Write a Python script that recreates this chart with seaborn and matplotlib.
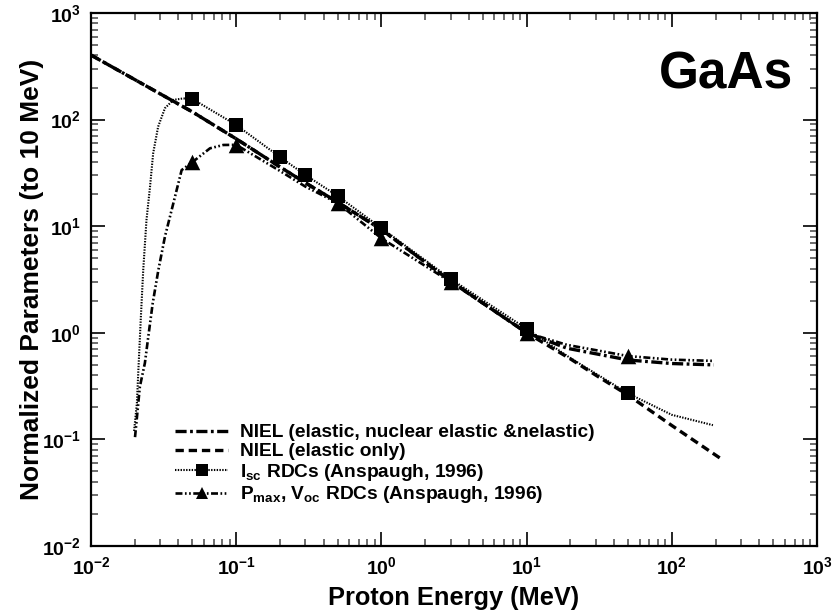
import matplotlib
matplotlib.use("Agg")
import matplotlib.pyplot as plt
from matplotlib.lines import Line2D
import numpy as np
import pandas as pd
import seaborn as sns

# --- NIEL curves (normalised to 10 MeV) ---
niel_el_e = [0.01, 0.05, 0.1, 0.2, 0.3, 0.5, 1, 3, 10, 20, 30, 50, 100, 225]
niel_el_v = [403, 118, 66, 36, 25.5, 16.8, 9.3, 3.05, 1.0, 0.57, 0.40, 0.26, 0.135, 0.064]

niel_all_e = [0.01, 0.05, 0.1, 0.2, 0.3, 0.5, 1, 3, 10, 19, 50, 100, 195]
niel_all_v = [403, 118, 66, 36, 25.5, 16.8, 9.3, 3.05, 1.0, 0.716, 0.556, 0.515, 0.50]

# --- Isc RDC curve and data points ---
isc_curve_e = [0.0198, 0.0207, 0.0212, 0.022, 0.0229, 0.0241, 0.0255, 0.0268, 0.029,
               0.0323, 0.0369, 0.0432, 0.05, 0.1, 0.2, 0.3, 0.5, 1, 3, 10, 20, 50, 100, 192]
isc_curve_v = [0.12, 0.218, 0.448, 1.32, 3.9, 11.4, 23.5, 48.3, 85.9,
               128, 153, 158, 156, 89, 44.6, 30.2, 19.2, 9.6, 3.2, 1.09, 0.58, 0.27, 0.17, 0.136]
isc_e = [0.05, 0.1, 0.2, 0.3, 0.5, 1, 3, 10, 50]
isc_v = [156, 89, 44.6, 30.2, 19.2, 9.6, 3.2, 1.09, 0.27]

# --- Pmax / Voc RDC curve and data points ---
pmax_curve_e = [0.0201, 0.0217, 0.0235, 0.0248, 0.0266, 0.0291, 0.0323, 0.0369, 0.0421,
                0.05, 0.066, 0.0815, 0.1, 0.2, 0.3, 0.5, 1, 3, 10, 19, 50, 100, 192]
pmax_curve_v = [0.105, 0.312, 0.52, 0.918, 1.89, 3.88, 7.98, 16.4, 33.6,
                40, 53.8, 57.8, 58, 33, 23.5, 16.5, 7.7, 3.0, 1.0, 0.77, 0.605, 0.56, 0.545]
pmax_e = [0.05, 0.1, 0.5, 1, 3, 10, 50]
pmax_v = [40, 58, 16.5, 7.7, 3.0, 1.0, 0.605]

xtick_vals = [1e-2, 1e-1, 1e0, 1e1, 1e2, 1e3]
xtick_labels = [r"$\mathbf{10^{-2}}$", r"$\mathbf{10^{-1}}$", r"$\mathbf{10^{0}}$",
                r"$\mathbf{10^{1}}$", r"$\mathbf{10^{2}}$", r"$\mathbf{10^{3}}$"]
ytick_vals = [1e-2, 1e-1, 1e0, 1e1, 1e2, 1e3]
ytick_labels = xtick_labels[:]

legend_labels = [
    "NIEL (elastic, nuclear elastic &nelastic)",
    "NIEL (elastic only)",
    r"I$_{\mathbf{sc}}$ RDCs (Anspaugh, 1996)",
    r"P$_{\mathbf{max}}$, V$_{\mathbf{oc}}$ RDCs (Anspaugh, 1996)",
]

sns.set_style("ticks")
plt.rcParams["font.family"] = ["Liberation Sans", "DejaVu Sans"]
plt.rcParams["font.weight"] = "bold"
plt.rcParams["mathtext.fontset"] = "custom"
plt.rcParams["mathtext.rm"] = "Liberation Sans:bold"
plt.rcParams["mathtext.it"] = "Liberation Sans:bold"
plt.rcParams["mathtext.bf"] = "Liberation Sans:bold"
plt.rcParams["lines.scale_dashes"] = False
for key in ["text.color", "axes.labelcolor", "xtick.color", "ytick.color",
            "xtick.labelcolor", "ytick.labelcolor"]:
    plt.rcParams[key] = "black"

fig = plt.figure(figsize=(8.36, 6.15), dpi=100)
ax = fig.add_axes([91 / 836, 1 - 546 / 615, 726 / 836, 533 / 615])
ax.set_xscale("log")
ax.set_yscale("log")

ls_dashdot = (0, (8, 2.5, 2, 2.5))
ls_dash = (0, (6, 3.5))
ls_dot = (0, (1, 1))
ls_dashdotdot = (0, (5, 1.8, 1.2, 1.8, 1.2, 1.8))

def curve(e, v, **kw):
    df = pd.DataFrame({"E": e, "V": v})
    sns.lineplot(data=df, x="E", y="V", sort=False, estimator=None, ax=ax,
                 color="black", legend=False, **kw)

curve(niel_el_e, niel_el_v, linewidth=2.4, linestyle=ls_dash)
curve(niel_all_e, niel_all_v, linewidth=2.4, linestyle=ls_dashdot)
curve(isc_curve_e, isc_curve_v, linewidth=1.5, linestyle=ls_dot)
curve(pmax_curve_e, pmax_curve_v, linewidth=1.9, linestyle=ls_dashdotdot)

sns.scatterplot(x=pmax_e, y=pmax_v, marker="^", s=125, color="black",
                linewidth=0, ax=ax, legend=False, zorder=4)
sns.scatterplot(x=isc_e, y=isc_v, marker="s", s=115, color="black",
                linewidth=0, ax=ax, legend=False, zorder=5)

ax.set_xlim(1e-2, 1e3)
ax.set_ylim(1e-2, 1e3)
ax.set_xticks(xtick_vals)
ax.set_xticklabels(xtick_labels)
ax.set_yticks(ytick_vals)
ax.set_yticklabels(ytick_labels)
ax.xaxis.set_minor_locator(matplotlib.ticker.LogLocator(base=10, subs=np.arange(2, 10)))
ax.yaxis.set_minor_locator(matplotlib.ticker.LogLocator(base=10, subs=np.arange(2, 10)))
ax.xaxis.set_minor_formatter(matplotlib.ticker.NullFormatter())
ax.yaxis.set_minor_formatter(matplotlib.ticker.NullFormatter())
ax.tick_params(which="both", direction="in", top=True, right=True, labelsize=14,
               width=1.2, color="black", labelcolor="black")
ax.tick_params(which="major", length=10, pad=7)
ax.tick_params(which="minor", length=5, color="#555555")
for sp in ax.spines.values():
    sp.set_linewidth(1.6)
    sp.set_color("black")

ax.set_xlabel("Proton Energy (MeV)", fontsize=18.3, fontweight="bold", labelpad=6,
              color="black")
ax.set_ylabel("Normalized Parameters (to 10 MeV)", fontsize=19, fontweight="bold",
              labelpad=-1, color="black")

ax.text(0.967, 0.859, "GaAs", transform=ax.transAxes, ha="right", va="baseline",
        fontsize=37, fontweight="bold", color="black")

handles = [
    Line2D([], [], color="black", linewidth=2.4, linestyle=ls_dashdot),
    Line2D([], [], color="black", linewidth=2.4, linestyle=ls_dash),
    Line2D([], [], color="black", linewidth=1.5, linestyle=ls_dot, marker="s",
           markersize=10.5, markeredgewidth=0),
    Line2D([], [], color="black", linewidth=1.9, linestyle=ls_dashdotdot, marker="^",
           markersize=11, markeredgewidth=0),
]
leg = ax.legend(handles, legend_labels, loc="upper left", bbox_to_anchor=(0.1157, 0.229),
                frameon=False, handlelength=2.77, handletextpad=0.63,
                labelspacing=0.08, borderpad=0, borderaxespad=0, markerscale=0.8,
                numpoints=1, prop={"weight": "bold", "size": 13.8})
for t in leg.get_texts():
    t.set_color("black")

fig.savefig("out.png", dpi=100)
